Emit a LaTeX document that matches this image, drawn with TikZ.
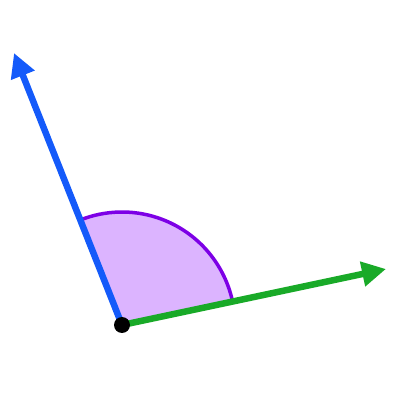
\documentclass[tikz,border=0pt]{standalone}
\usetikzlibrary{arrows.meta}
\definecolor{rayblue}{RGB}{20,90,250}
\definecolor{raygreen}{RGB}{25,170,40}
\definecolor{arcpurple}{RGB}{125,0,230}
\definecolor{sectorfill}{RGB}{220,180,255}
\tikzset{
  ray/.style={line width=6.5pt,-{Triangle[length=24pt,width=24pt]}},
  vertexdot/.style={circle,fill=black,inner sep=0pt,minimum size=16pt}
}
\begin{document}
\begin{tikzpicture}[x=1pt,y=1pt]
\useasboundingbox (0,0) rectangle (400,400);
\coordinate (O) at (122,75);
\coordinate (G) at (386,131);
\coordinate (B) at (14,347);
\fill[sectorfill] (O) -- ++(12:113) arc[start angle=12,end angle=111.7,radius=113] -- cycle;
\draw[arcpurple,line width=3.5pt] (O) ++(12:113) arc[start angle=12,end angle=111.7,radius=113];
\draw[ray,rayblue] (O) -- (B);
\draw[ray,raygreen] (O) -- (G);
\node[vertexdot] (V) at (O) {};
\end{tikzpicture}
\end{document}
